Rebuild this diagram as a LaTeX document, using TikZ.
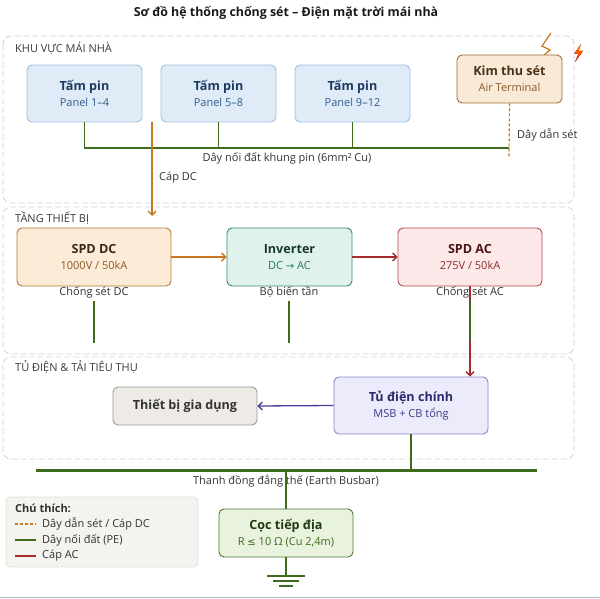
\documentclass[tikz,border=0pt]{standalone}
\usepackage{fontspec}
\setmainfont{Open Sans}
\newfontfamily\symfont{DejaVu Sans}
\usetikzlibrary{arrows.meta}
\newcommand\ttlf{\fontsize{12.6}{16}\selectfont\bfseries}
\definecolor{zoneC}{HTML}{D2D2D2}
\definecolor{peC}{HTML}{3F6B1E}
\definecolor{dcC}{HTML}{C8781E}
\definecolor{acC}{HTML}{A32C2C}
\definecolor{puC}{HTML}{4B3F9B}
\definecolor{lblC}{HTML}{333333}
\definecolor{zlC}{HTML}{3C3C3C}
\definecolor{panF}{HTML}{DFECF8}
\definecolor{panD}{HTML}{9EC0E0}
\definecolor{panT}{HTML}{1E3A5F}
\definecolor{panS}{HTML}{2F5E8C}
\definecolor{kimF}{HTML}{F8EAD7}
\definecolor{kimD}{HTML}{A06E36}
\definecolor{kimT}{HTML}{4A3218}
\definecolor{kimS}{HTML}{8A5A26}
\definecolor{dcF}{HTML}{FCEBD6}
\definecolor{dcD}{HTML}{B07A3A}
\definecolor{dcT}{HTML}{3A2A18}
\definecolor{dcS}{HTML}{8A5A26}
\definecolor{invF}{HTML}{DFF2EC}
\definecolor{invD}{HTML}{3A8A6A}
\definecolor{invT}{HTML}{183A2C}
\definecolor{invS}{HTML}{2A7A5A}
\definecolor{acF}{HTML}{FDE9E9}
\definecolor{acD}{HTML}{B04A4A}
\definecolor{acT}{HTML}{4A1616}
\definecolor{acS}{HTML}{8A2E2E}
\definecolor{tbF}{HTML}{EEEBE6}
\definecolor{tbD}{HTML}{9A9A9A}
\definecolor{tbT}{HTML}{333333}
\definecolor{tuF}{HTML}{ECEBFB}
\definecolor{tuD}{HTML}{8A86CC}
\definecolor{tuT}{HTML}{2B2A6B}
\definecolor{tuS}{HTML}{3C3A8A}
\definecolor{cocF}{HTML}{E8F2DD}
\definecolor{cocD}{HTML}{4E7A2E}
\definecolor{cocT}{HTML}{203A10}
\definecolor{cocS}{HTML}{3F6B1E}
\definecolor{legF}{HTML}{F5F3EF}
\definecolor{legD}{HTML}{E2DFDA}
\begin{document}
\begin{tikzpicture}[x=1pt,y=-1pt,
  zone/.style={draw=zoneC, dash pattern=on 6pt off 3pt, rounded corners=8pt, line width=0.8pt},
  box/.style={rounded corners=5pt, line width=0.9pt, align=center, inner sep=0pt,
    font=\fontsize{11}{16}\selectfont},
  pe/.style={draw=peC, line width=1.3pt},
  dcl/.style={draw=dcC, line width=1.3pt},
  acl/.style={draw=acC, line width=1.3pt},
  tipA/.style={-{Straight Barb[length=4pt,width=8pt]}},
  lbl/.style={font=\fontsize{11}{13}\selectfont, text=lblC, inner sep=0pt},
  zlbl/.style={font=\fontsize{11}{13}\selectfont, text=zlC, inner sep=0pt, anchor=west}
]
\useasboundingbox (0,0) rectangle (600,599);
\fill[white] (0,0) rectangle (600,599);
\draw[zoneC!90!black, line width=1.5pt] (0,597.5) -- (600,597.5);

% title
\node[font=\fontsize{12.4}{15}\selectfont\bfseries, text=black!90, inner sep=0pt] (title) at (286,13) {Sơ đồ hệ thống chống sét – Điện mặt trời mái nhà};

% zones
\draw[zone] (3,36) rectangle (574,203);
\draw[zone] (3,207) rectangle (574,354);
\draw[zone] (3,357) rectangle (574,459);
\node[zlbl] (z1) at (15,48) {KHU VỰC MÁI NHÀ};
\node[zlbl] (z2) at (15,218) {TẦNG THIẾT BỊ};
\node[zlbl] (z3) at (15,367) {TỦ ĐIỆN \& TẢI TIÊU THỤ};

% lightning zigzag
\draw[dcC, line width=1.2pt] (551,33) -- (542,46) -- (550,50) -- (537,61);
% small bolt icon
\fill[top color=orange!90!yellow, bottom color=red!85!orange] (581,44) -- (574,54) -- (578.5,54) -- (575,62) -- (583,51) -- (578.5,51) -- cycle;

% roof boxes
\node[box, fill=panF, draw=panD, minimum width=115pt, minimum height=57pt] (p1) at (84.5,93.5)
  {{\ttlf\color{panT}Tấm pin}\\{\color{panS}Panel 1–4}};
\node[box, fill=panF, draw=panD, minimum width=115pt, minimum height=57pt] (p2) at (218.5,93.5)
  {{\ttlf\color{panT}Tấm pin}\\{\color{panS}Panel 5–8}};
\node[box, fill=panF, draw=panD, minimum width=115pt, minimum height=57pt] (p3) at (352.5,93.5)
  {{\ttlf\color{panT}Tấm pin}\\{\color{panS}Panel 9–12}};
\node[box, fill=kimF, draw=kimD, minimum width=105pt, minimum height=48pt] (kim) at (509.5,79)
  {{\ttlf\color{kimT}Kim thu sét}\\{\color{kimS}Air Terminal}};

% frame grounding
\coordinate (gb1) at (84,148);
\coordinate (gb2) at (509,148);
\coordinate (dsEnd) at (509,158);
\draw[pe] (p1.south) |- (gb2);
\draw[pe] (p2.south) -- (p2.south |- gb1);
\draw[pe] (p3.south) -- (p3.south |- gb1);
\draw[dcl, line width=1.2pt, dash pattern=on 3pt off 2pt] (kim.south) -- (dsEnd);
\node[lbl] (lgb) at (287,158) {Dây nối đất khung pin (6mm² Cu)};
\node[lbl, anchor=west] (lds) at (517,135) {Dây dẫn sét};

% DC cable
\coordinate (dcA) at (152,122);
\coordinate (dcB) at (152,216);
\draw[dcl, tipA] (dcA) -- (dcB);
\node[lbl, anchor=west] (ldc) at (159,178) {Cáp DC};

% equipment
\node[box, fill=dcF, draw=dcD, minimum width=154pt, minimum height=58pt] (spddc) at (94,257)
  {{\ttlf\color{dcT}SPD DC}\\{\color{dcS}1000V / 50kA}};
\node[box, fill=invF, draw=invD, minimum width=125pt, minimum height=58pt] (inv) at (289.5,257)
  {{\ttlf\color{invT}Inverter}\\{\color{invS}DC {\symfont\fontsize{10}{12}\selectfont →} AC}};
\node[box, fill=acF, draw=acD, minimum width=144pt, minimum height=58pt] (spdac) at (470,257)
  {{\ttlf\color{acT}SPD AC}\\{\color{acS}275V / 50kA}};
\node[lbl] (lsd) at (94,292) {Chống sét DC};
\node[lbl] (linv) at (289,292) {Bộ biến tần};
\node[lbl] (lsa) at (470,292) {Chống sét AC};

\draw[dcl, tipA] (spddc.east) -- (inv.west);
\draw[acl, tipA] (inv.east) -- (spdac.west);

% cabinet
\node[box, fill=tbF, draw=tbD, minimum width=144pt, minimum height=38pt] (tb) at (185,406)
  {{\ttlf\color{tbT}Thiết bị gia dụng}};
\node[box, fill=tuF, draw=tuD, minimum width=154pt, minimum height=57pt] (tu) at (411,405.5)
  {{\ttlf\color{tuT}Tủ điện chính}\\{\color{tuS}MSB + CB tổng}};

\draw[acl, tipA] (spdac.south) -- (spdac.south |- tu.north);
\coordinate (s1a) at (94,301); \coordinate (s1b) at (94,343);
\coordinate (s2a) at (289,301); \coordinate (s2b) at (289,343);
\coordinate (s3a) at (470,301); \coordinate (s3b) at (470,341);
\draw[pe] (s1a) -- (s1b);
\draw[pe] (s2a) -- (s2b);
\draw[pe] (s3a) -- (s3b);
\draw[draw=puC, line width=1.3pt, tipA] (tu.west) -- (tb.east);

% earth busbar
\coordinate (busL) at (36,470);
\coordinate (busR) at (537,470);
\coordinate (busC) at (286,470);
\draw[peC, line width=3pt] (busL) -- (busR);
\draw[pe] (tu.south) -- (tu.south |- busL);
\node[lbl] (lbus) at (286,481) {Thanh đồng đẳng thế (Earth Busbar)};

% ground rod
\node[box, fill=cocF, draw=cocD, minimum width=134pt, minimum height=48pt] (coc) at (286,533)
  {{\ttlf\color{cocT}Cọc tiếp địa}\\{\color{cocS}R {\symfont\fontsize{10}{12}\selectfont ≤} 10 Ω (Cu 2,4m)}};
\draw[pe] (busC) -- (coc.north);
\coordinate (gnd) at (286,576);
\draw[pe] (coc.south) -- (gnd);
\draw[peC, line width=1.5pt] (267,576) -- (305,576);
\draw[peC, line width=1.3pt] (273,581) -- (299,581);
\draw[peC, line width=1.2pt] (279,586) -- (293,586);

% legend
\node[draw=legD, fill=legF, rounded corners=4pt, line width=0.8pt, minimum width=192pt, minimum height=70pt, inner sep=0pt] (leg) at (102,532) {};
\node[font=\fontsize{11}{13}\selectfont\bfseries, text=lblC, inner sep=0pt, anchor=west] (legt) at (15,508) {Chú thích:};
\coordinate (l1a) at (15,524); \coordinate (l1b) at (36,524);
\coordinate (l2a) at (15,540); \coordinate (l2b) at (36,540);
\coordinate (l3a) at (15,556); \coordinate (l3b) at (36,556);
\draw[dcl, line width=1.2pt, dash pattern=on 3pt off 2pt] (l1a) -- (l1b);
\draw[pe] (l2a) -- (l2b);
\draw[acl] (l3a) -- (l3b);
\node[lbl, anchor=west] (leg1) at (42,524) {Dây dẫn sét / Cáp DC};
\node[lbl, anchor=west] (leg2) at (42,540) {Dây nối đất (PE)};
\node[lbl, anchor=west] (leg3) at (42,556) {Cáp AC};
\end{tikzpicture}
\end{document}
